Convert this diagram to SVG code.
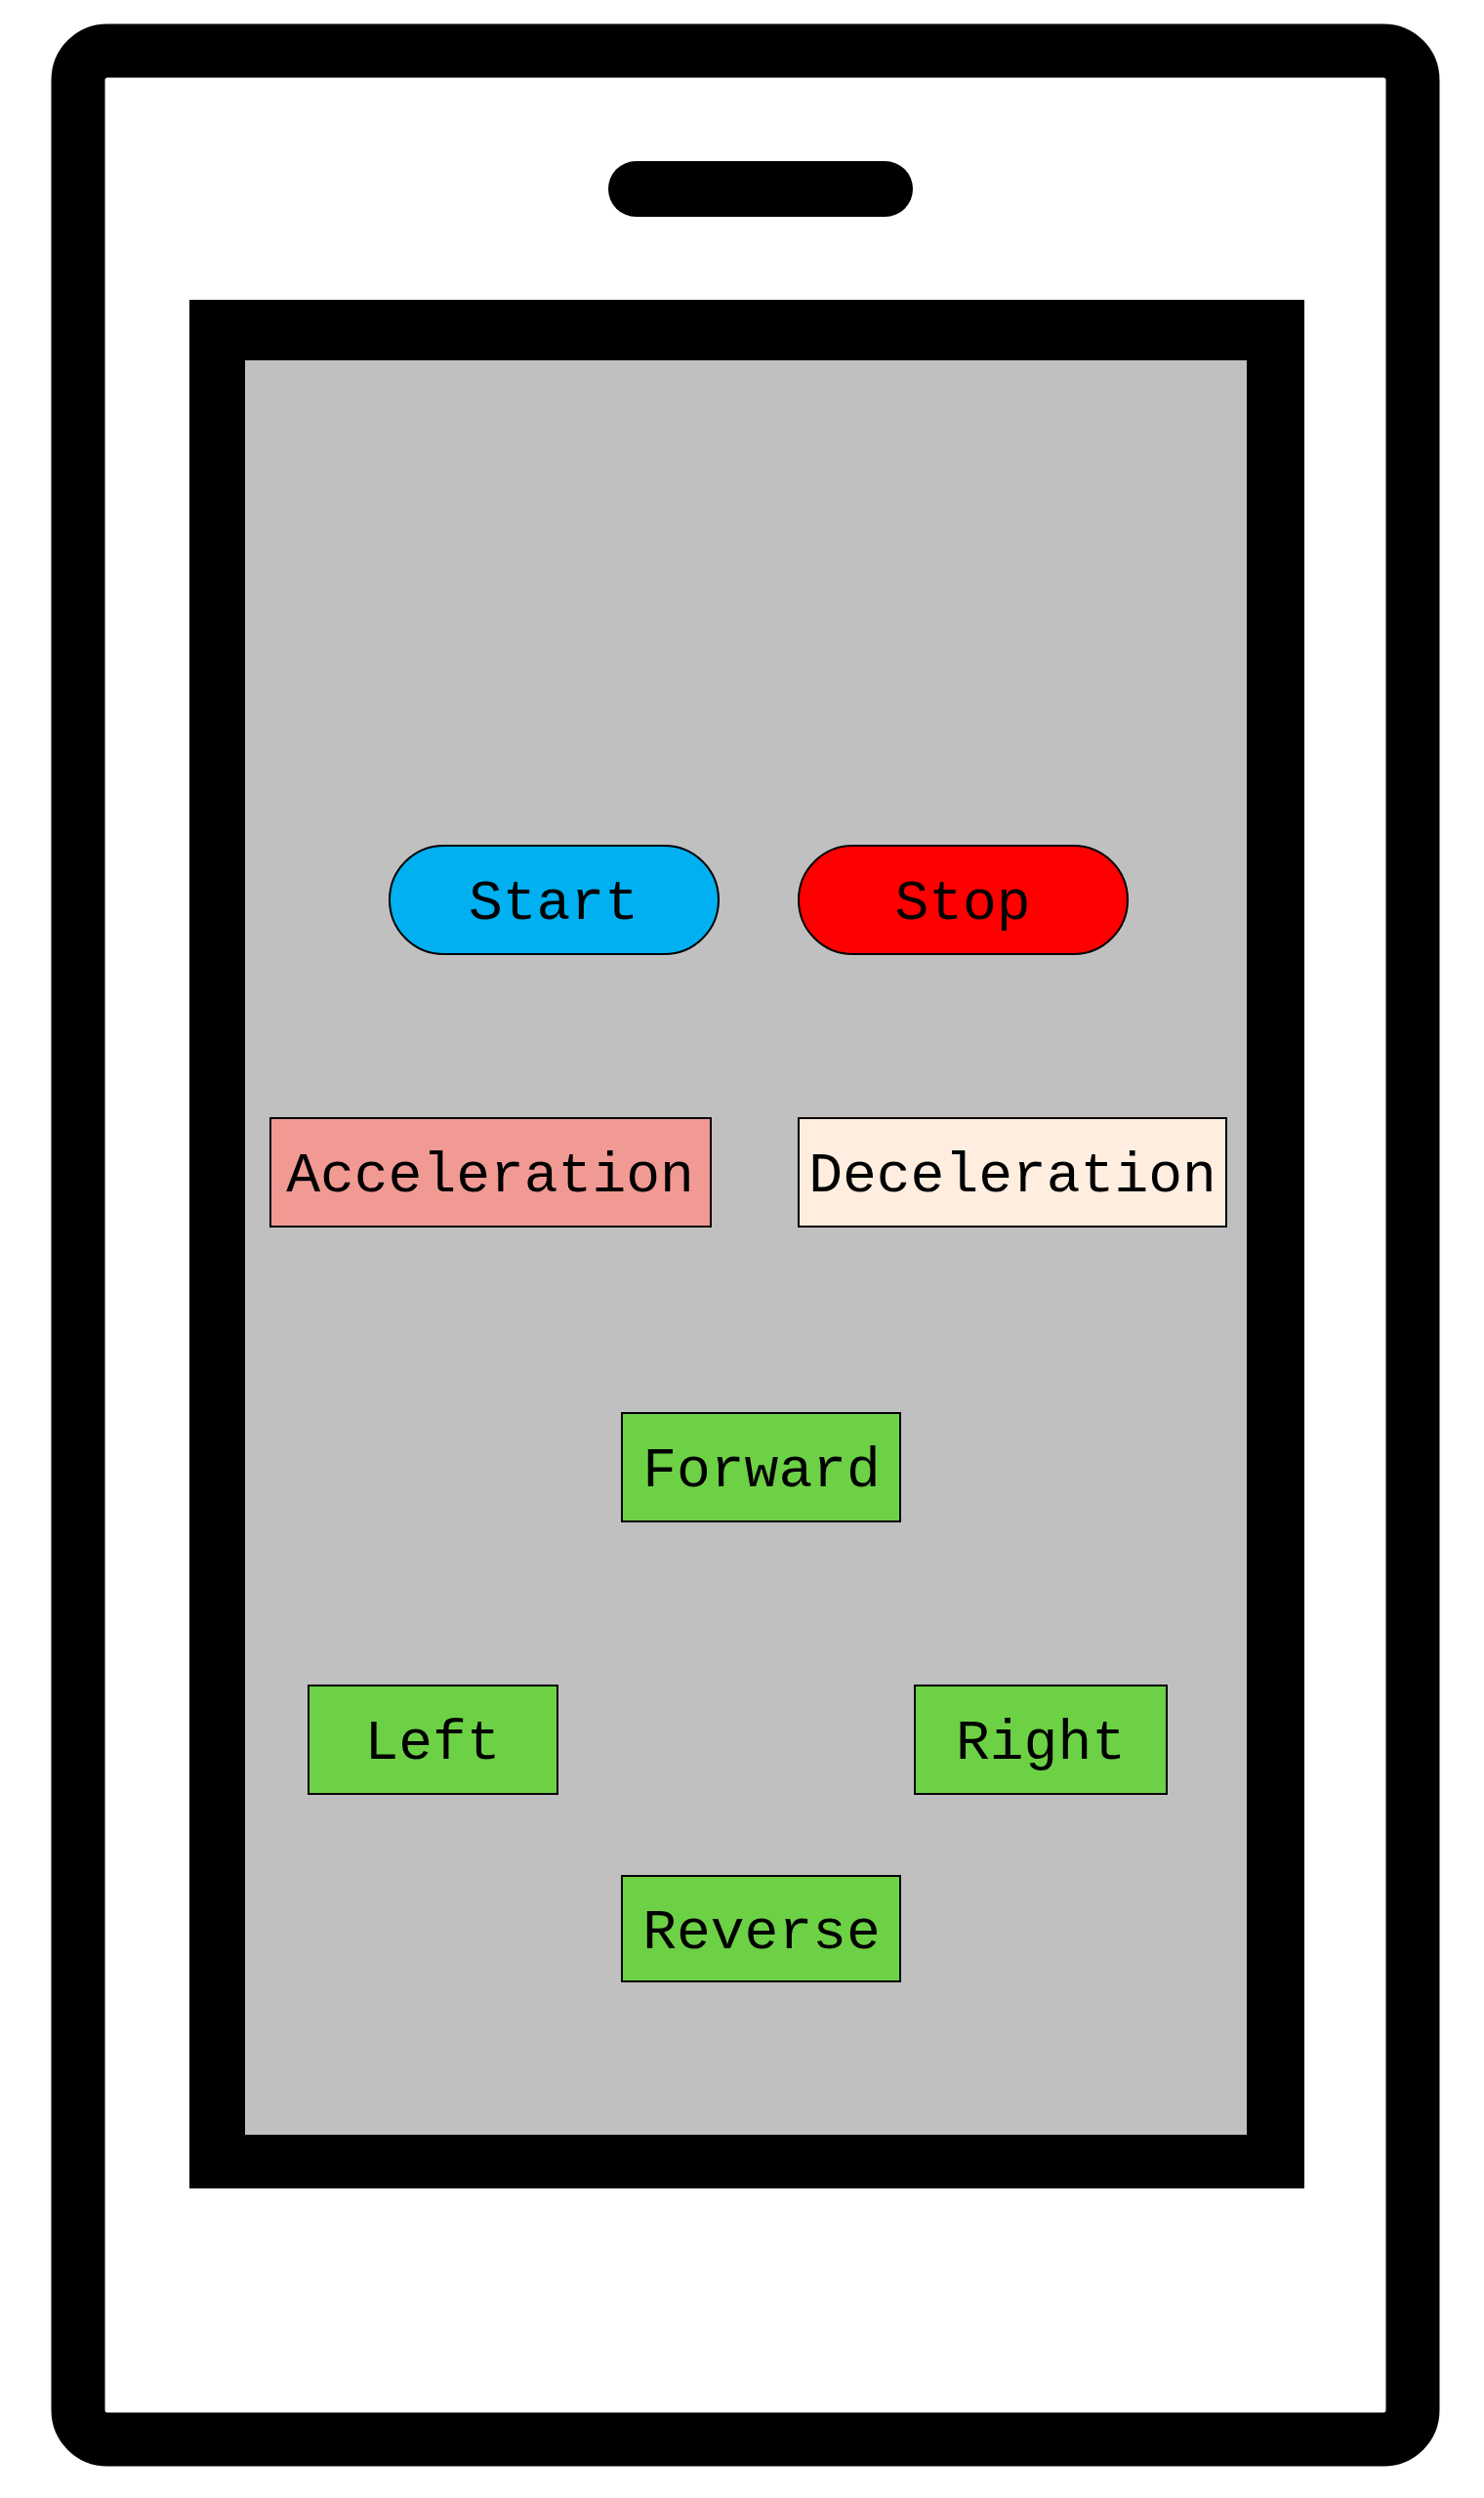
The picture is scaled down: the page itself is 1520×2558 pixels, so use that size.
<svg xmlns="http://www.w3.org/2000/svg" width="1520" height="2558" viewBox="0 0 1520 2558">
<style>
.b{stroke:#000;stroke-width:2}
.g{fill:#6DD146}
text{font-family:"Liberation Mono","DejaVu Sans Mono",monospace;font-size:58px;fill:#000;text-anchor:middle}
</style>
<rect width="1520" height="2558" fill="#fff"/>
<g id="phone">
<rect x="80" y="52" width="1367" height="2446" rx="30" fill="#fff" stroke="#000" stroke-width="55"/>
<rect x="623" y="165" width="312" height="57" rx="28.5" fill="#000"/>
<rect x="194" y="307" width="1142" height="1934" fill="#000"/>
<rect x="251" y="369" width="1026" height="1817" fill="#C0C0C0"/>
</g>
<g id="start"><rect class="b" x="399" y="866" width="337" height="111" rx="55.5" fill="#00B0F0"/><text x="567" y="941">Start</text></g>
<g id="stop"><rect class="b" x="818" y="866" width="337" height="111" rx="55.5" fill="#FF0000"/><text x="986" y="941">Stop</text></g>
<g id="acceleration"><rect class="b" x="277" y="1145" width="451" height="111" fill="#F19A93"/><text x="502" y="1220">Acceleration</text></g>
<g id="deceleration"><rect class="b" x="818" y="1145" width="438" height="111" fill="#FFEEE0"/><text x="1037" y="1220">Deceleration</text></g>
<g id="forward"><rect class="b g" x="637" y="1447" width="285" height="111"/><text x="780" y="1522">Forward</text></g>
<g id="left"><rect class="b g" x="316" y="1726" width="255" height="111"/><text x="443" y="1801">Left</text></g>
<g id="right"><rect class="b g" x="937" y="1726" width="258" height="111"/><text x="1066" y="1801">Right</text></g>
<g id="reverse"><rect class="b g" x="637" y="1921" width="285" height="108"/><text x="780" y="1995">Reverse</text></g>
<g id="connectors"/>
</svg>
